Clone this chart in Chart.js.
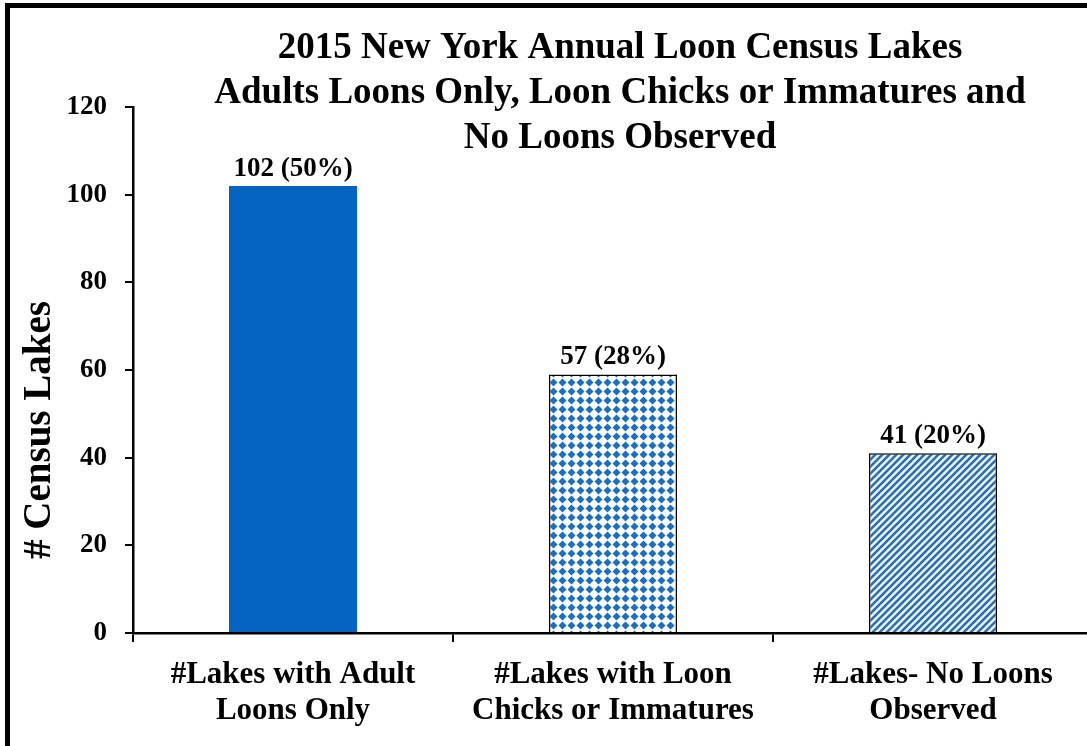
<!DOCTYPE html>
<html>
<head>
<meta charset="utf-8">
<script src="https://cdn.jsdelivr.net/npm/chart.js@4"></script>
<style>
  html, body { margin: 0; padding: 0; overflow: hidden; background: #fff; }
  #wrap { position: relative; width: 1093px; height: 746px; }
</style>
</head>
<body>
<div id="wrap"><canvas id="myChart"></canvas></div>
<script>
// Data
var categories = [
  ['#Lakes with Adult', 'Loons Only'],
  ['#Lakes with Loon', 'Chicks or Immatures'],
  ['#Lakes- No Loons', 'Observed']
];
var lakeCounts = [102, 59, 41];
var barLabels = ['102 (50%)', '57 (28%)', '41 (20%)'];
var yMin = 0, yMax = 120, yStep = 20;
var titleLines = [
  '2015 New York Annual Loon Census Lakes',
  'Adults Loons Only, Loon Chicks or Immatures and',
  'No Loons Observed'
];
var yTitle = '# Census Lakes';

var FONT = '"Liberation Serif", "Times New Roman", serif';
var BLUE = '#0563C1';

// Patterns
function dotPattern() {
  var s = 9;
  var c = document.createElement('canvas');
  c.width = s; c.height = s;
  var g = c.getContext('2d');
  g.fillStyle = '#fff';
  g.fillRect(0, 0, s, s);
  g.fillStyle = '#1A6FC4';
  g.beginPath();
  g.moveTo(4.5, 0.5);
  g.lineTo(8.5, 4.5);
  g.lineTo(4.5, 8.5);
  g.lineTo(0.5, 4.5);
  g.closePath();
  g.fill();
  return g.createPattern(c, 'repeat');
}

function stripePattern() {
  var s = 7;
  var c = document.createElement('canvas');
  c.width = s; c.height = s;
  var g = c.getContext('2d');
  g.fillStyle = '#EEF6FD';
  g.fillRect(0, 0, s, s);
  g.strokeStyle = '#2A6FB5';
  g.lineWidth = 2.6;
  g.beginPath();
  g.moveTo(-1, s + 1); g.lineTo(s + 1, -1);
  g.moveTo(-1, 1); g.lineTo(1, -1);
  g.moveTo(s - 1, s + 1); g.lineTo(s + 1, s - 1);
  g.stroke();
  return g.createPattern(c, 'repeat');
}

// Extra text: title, axis title, bar labels, frame
var extras = {
  id: 'extras',
  afterDraw: function(chart) {
    var ctx = chart.ctx;
    ctx.save();
    ctx.fillStyle = '#000';
    ctx.textAlign = 'center';
    ctx.textBaseline = 'alphabetic';

    ctx.font = 'bold 37px ' + FONT;
    titleLines.forEach(function(t, i) {
      ctx.fillText(t, 620, 58 + i * 45);
    });

    ctx.save();
    ctx.translate(40, 430);
    ctx.rotate(-Math.PI / 2);
    ctx.textBaseline = 'middle';
    ctx.font = 'bold 39px ' + FONT;
    ctx.fillText(yTitle, 0, 0);
    ctx.restore();

    ctx.font = 'bold 27px ' + FONT;
    var meta = chart.getDatasetMeta(0);
    meta.data.forEach(function(bar, i) {
      ctx.fillText(barLabels[i], bar.x, bar.y - 10);
    });

    ctx.fillRect(5, 3, 5, 743);
    ctx.fillRect(5, 3, 1088, 5);
    ctx.restore();
  }
};

var ctx = document.getElementById('myChart').getContext('2d');

var chart = new Chart(ctx, {
  type: 'bar',
  data: {
    labels: categories,
    datasets: [{
      data: lakeCounts,
      backgroundColor: [BLUE, dotPattern(), stripePattern()],
      borderColor: ['rgba(0,0,0,0)', '#000', '#000'],
      borderWidth: [0, 1.5, 1.5],
      barPercentage: 0.4,
      categoryPercentage: 1.0
    }]
  },
  options: {
    responsive: true,
    maintainAspectRatio: false,
    animation: false,
    layout: { padding: { top: 107, left: 0, right: 0, bottom: 0 } },
    plugins: {
      legend: { display: false },
      title: { display: false },
      tooltip: { enabled: false }
    },
    scales: {
      x: {
        offset: true,
        grid: {
          offset: true,
          drawOnChartArea: false,
          drawTicks: true,
          tickLength: 9,
          color: '#000',
          lineWidth: 2
        },
        border: { display: true, color: '#000', width: 2.5 },
        ticks: {
          color: '#000',
          padding: 15,
          maxRotation: 0,
          autoSkip: false,
          font: { family: FONT, size: 31, weight: 'bold', lineHeight: 1.17 }
        },
        afterFit: function(scale) { scale.height = 113; }
      },
      y: {
        min: yMin,
        max: yMax,
        grid: {
          drawOnChartArea: false,
          drawTicks: true,
          tickLength: 8,
          color: '#000',
          lineWidth: 2
        },
        border: { display: true, color: '#000', width: 2.5 },
        ticks: {
          stepSize: yStep,
          color: '#000',
          padding: 18,
          font: { family: FONT, size: 27, weight: 'bold' }
        },
        afterFit: function(scale) { scale.width = 133; }
      }
    }
  },
  plugins: [extras]
});
</script>
</body>
</html>
